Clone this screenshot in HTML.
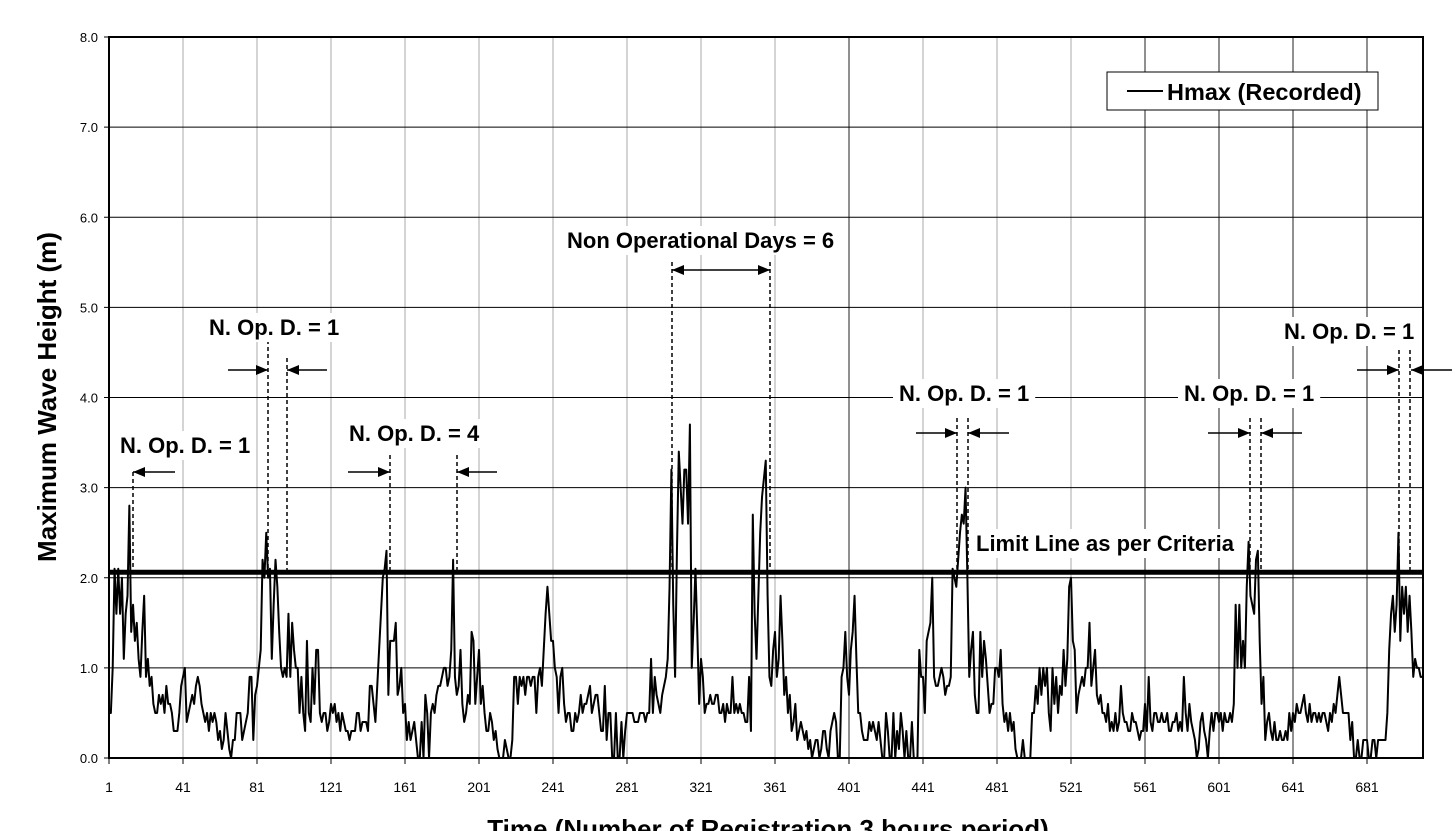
<!DOCTYPE html>
<html><head><meta charset="utf-8"><style>
body{margin:0;background:#fff;font-family:"Liberation Sans",Arial,sans-serif}
svg{display:block}
</style></head><body>
<svg id="chart" width="1455" height="831" xmlns="http://www.w3.org/2000/svg"></svg>
<script>
const xTicks=[1,41,81,121,161,201,241,281,321,361,401,441,481,521,561,601,641,681];
const yTicks=[0,1,2,3,4,5,6,7,8];
const limitValue=[2.05];
const hmax=[
0.5,0.5,1.0,2.1,1.6,2.1,1.6,2.0,1.1,1.6,1.8,2.8,1.4,1.7,1.3,1.5,1.1,0.9,1.4,1.8,0.9,1.1,0.8,0.9,0.6,0.5,0.5,0.7,0.6,0.7,0.5,0.8,0.6,0.6,0.5,0.3,0.3,0.3,0.5,0.8,
0.9,1.0,0.4,0.5,0.6,0.7,0.6,0.8,0.9,0.8,0.6,0.5,0.4,0.5,0.3,0.5,0.4,0.5,0.4,0.2,0.3,0.1,0.2,0.5,0.3,0.1,0.0,0.2,0.2,0.5,0.5,0.5,0.2,0.3,0.4,0.5,0.9,0.9,0.2,0.7,
0.8,1.0,1.2,2.2,2.0,2.5,2.0,2.1,1.1,1.7,2.2,1.9,1.4,1.0,0.9,1.0,0.9,1.6,0.9,1.5,1.2,1.0,1.0,0.5,0.9,0.5,0.3,1.3,0.5,0.4,1.0,0.6,1.2,1.2,0.5,0.4,0.5,0.5,0.3,0.4,
0.6,0.5,0.6,0.4,0.5,0.3,0.5,0.4,0.3,0.3,0.2,0.3,0.3,0.3,0.5,0.5,0.3,0.4,0.4,0.4,0.3,0.8,0.8,0.6,0.4,0.8,1.2,1.6,2.0,2.1,2.3,0.7,1.3,1.3,1.3,1.5,0.7,0.8,1.0,0.5,
0.6,0.2,0.4,0.2,0.3,0.4,0.2,0.0,0.0,0.4,0.0,0.7,0.5,0.0,0.5,0.6,0.5,0.7,0.8,0.8,0.9,1.0,1.0,0.8,0.9,1.2,2.2,0.9,0.7,0.8,1.2,0.6,0.4,0.5,0.7,0.6,1.4,1.3,0.6,0.9,
1.2,0.6,0.8,0.5,0.3,0.3,0.5,0.4,0.2,0.3,0.1,0.0,0.0,0.0,0.2,0.1,0.0,0.0,0.2,0.9,0.9,0.6,0.9,0.8,0.9,0.7,0.9,0.9,0.8,0.9,0.9,0.5,0.9,1.0,0.8,1.2,1.6,1.9,1.6,1.3,
1.3,1.0,0.9,0.5,0.9,1.0,0.6,0.4,0.5,0.5,0.3,0.3,0.5,0.4,0.5,0.7,0.5,0.6,0.6,0.7,0.8,0.5,0.6,0.7,0.7,0.5,0.3,0.3,0.8,0.2,0.5,0.5,0.0,0.0,0.5,0.0,0.0,0.4,0.0,0.3,
0.5,0.5,0.5,0.5,0.4,0.4,0.4,0.5,0.5,0.5,0.4,0.5,0.5,1.1,0.5,0.9,0.7,0.6,0.5,0.7,0.8,0.9,1.1,1.9,3.2,1.7,0.9,2.3,3.4,3.0,2.6,3.2,3.2,2.6,3.7,1.0,1.5,2.1,1.4,0.6,
1.1,0.9,0.5,0.6,0.6,0.7,0.6,0.6,0.7,0.7,0.5,0.5,0.6,0.4,0.6,0.5,0.5,0.9,0.5,0.6,0.5,0.6,0.5,0.5,0.4,0.4,0.9,0.3,2.7,1.6,1.1,1.8,2.5,2.9,3.1,3.3,1.8,0.9,0.8,1.2,
1.4,0.9,1.1,1.8,1.3,0.7,0.9,0.5,0.7,0.3,0.4,0.6,0.2,0.3,0.4,0.3,0.2,0.3,0.1,0.2,0.0,0.1,0.2,0.2,0.0,0.1,0.3,0.3,0.1,0.0,0.3,0.4,0.5,0.4,0.0,0.0,0.9,1.0,1.4,0.9,
0.7,1.2,1.4,1.8,1.1,0.5,0.5,0.3,0.2,0.2,0.2,0.4,0.3,0.4,0.3,0.2,0.4,0.2,0.0,0.0,0.5,0.3,0.0,0.0,0.5,0.0,0.3,0.1,0.5,0.3,0.0,0.3,0.0,0.0,0.4,0.0,0.0,0.0,1.2,0.9,
0.9,0.5,1.3,1.4,1.5,2.0,0.9,0.8,0.8,0.9,1.0,0.9,0.7,0.8,0.8,0.9,2.1,2.0,1.9,2.2,2.5,2.7,2.6,3.0,2.0,0.9,1.2,1.4,0.7,0.5,0.5,1.4,0.9,1.3,1.1,0.8,0.5,0.6,0.6,1.0,
1.0,0.9,1.2,0.6,0.4,0.5,0.3,0.5,0.3,0.4,0.1,0.0,0.0,0.0,0.2,0.0,0.0,0.0,0.0,0.5,0.5,0.8,0.6,1.0,0.7,1.0,0.8,1.0,0.5,0.3,1.0,0.6,0.9,0.5,0.8,0.7,1.2,0.8,1.1,1.9,
2.0,1.3,1.2,0.5,0.7,0.8,0.9,0.8,1.0,1.0,1.5,0.8,1.0,1.2,0.7,0.6,0.7,0.5,0.5,0.4,0.6,0.3,0.4,0.3,0.5,0.3,0.4,0.8,0.5,0.4,0.4,0.3,0.3,0.5,0.4,0.4,0.3,0.2,0.3,0.3,
0.6,0.3,0.9,0.4,0.3,0.5,0.5,0.4,0.4,0.5,0.4,0.4,0.5,0.3,0.3,0.4,0.4,0.5,0.3,0.4,0.3,0.9,0.5,0.3,0.6,0.4,0.3,0.2,0.0,0.1,0.4,0.5,0.3,0.2,0.0,0.3,0.5,0.3,0.5,0.5,
0.4,0.5,0.3,0.5,0.4,0.4,0.5,0.4,0.6,1.7,1.0,1.7,1.0,1.3,1.0,1.9,2.4,1.8,1.7,1.6,2.2,2.3,1.3,0.6,0.9,0.2,0.4,0.5,0.3,0.2,0.4,0.2,0.2,0.3,0.2,0.2,0.3,0.2,0.5,0.3,
0.5,0.4,0.6,0.5,0.5,0.6,0.7,0.5,0.4,0.6,0.4,0.5,0.5,0.4,0.5,0.4,0.5,0.5,0.4,0.3,0.5,0.4,0.6,0.5,0.7,0.9,0.7,0.5,0.5,0.5,0.5,0.2,0.4,0.0,0.0,0.2,0.0,0.0,0.2,0.2,
0.2,0.0,0.0,0.2,0.2,0.0,0.2,0.2,0.2,0.2,0.2,0.5,1.2,1.6,1.8,1.4,1.7,2.5,1.3,1.9,1.6,1.9,1.4,1.8,1.4,0.9,1.1,1.0,1.0,0.9,0.9
];
const L=109,R=1423,T=37,B=758;
const xS=v=>L+(v-1)*1.85;
const yS=v=>B-(v/8)*(B-T);
const svg=document.getElementById('chart');
const NS='http://www.w3.org/2000/svg';
function mk(tag,at,parent){const e=document.createElementNS(NS,tag);for(const k in at)e.setAttribute(k,at[k]);(parent||svg).appendChild(e);return e;}
const darkV=[401,561,601,641,681];
xTicks.forEach(t=>{if(t===1)return;
 const g=mk('line',{x1:xS(t),x2:xS(t),y1:T,y2:B,stroke:darkV.includes(t)?'#222':'#aaa','stroke-width':1});
 
 
});
yTicks.forEach(t=>{
 const g=mk('line',{x1:L,x2:R,y1:yS(t),y2:yS(t),stroke:'#000','stroke-width':1});
 
 
 mk('line',{x1:L-5,x2:L,y1:yS(t),y2:yS(t),stroke:'#000'});
 const tx=mk('text',{x:L-11,y:yS(t)+5,'text-anchor':'end','font-size':13,fill:'#000'});
 tx.textContent=t.toFixed(1);
 
 
});
xTicks.forEach(t=>{
 mk('line',{x1:xS(t),x2:xS(t),y1:B,y2:B+6,stroke:'#000'});
 const tx=mk('text',{x:xS(t),y:B+34,'text-anchor':'middle','font-size':14,fill:'#000'});
 tx.textContent=t;
 
 
});
const fr=mk('rect',{x:L,y:T,width:R-L,height:B-T,fill:'none',stroke:'#000','stroke-width':2});


const ll=mk('line',{x1:L,x2:R,y1:yS(limitValue[0])-1,y2:yS(limitValue[0])-1,stroke:'#000','stroke-width':5});


const pts=hmax.map((v,i)=>xS(i+1).toFixed(2)+','+yS(v).toFixed(2)).join(' ');
const pl=mk('polyline',{points:pts,fill:'none',stroke:'#000','stroke-width':2,'stroke-linejoin':'round'});


function label(txt,x,y,name,bg,fs){
 const t=mk('text',{x:x,y:y,'font-size':fs||22,'font-weight':'bold',fill:'#000'});
 t.textContent=txt;
 
 
 if(bg){const bb=t.getBBox();const r=mk('rect',{x:bb.x-6,y:bb.y-2,width:bb.width+12,height:bb.height+4,fill:'#fff'});svg.insertBefore(r,t);}
 return t;}
function dash(x,y1,y2){const d=mk('line',{x1:x,x2:x,y1:y1,y2:y2,stroke:'#000','stroke-width':1.5,'stroke-dasharray':'4,3'});
 
 }
function head(x,y,s){mk('polygon',{points:`${x},${y} ${x+s*12},${y-5} ${x+s*12},${y+5}`,fill:'#000'});}
function arrow(x1,x2,y){const a=mk('line',{x1:x1,x2:x2,y1:y,y2:y,stroke:'#000','stroke-width':1.5});
 
 
 head(x2,y,x2>x1?-1:1);}
const lim=yS(limitValue[0]);
dash(133,472,lim);arrow(175,133,472);label('N. Op. D. = 1',120,453,'annotation-label-1',true);
dash(268,340,lim);dash(287,358,lim);arrow(228,268,370);arrow(327,287,370);label('N. Op. D. = 1',209,335,'annotation-label-2',true);
dash(390,455,lim);dash(457,455,lim);arrow(348,390,472);arrow(497,457,472);label('N. Op. D. = 4',349,441,'annotation-label-3',true);
dash(672,262,lim);dash(770,262,lim);
const da=mk('line',{x1:672,x2:770,y1:270,y2:270,stroke:'#000','stroke-width':1.5});


head(672,270,1);head(770,270,-1);
label('Non Operational Days = 6',567,248,'annotation-label-4',true);
dash(957,418,lim);dash(968,418,lim);arrow(916,957,433);arrow(1009,968,433);label('N. Op. D. = 1',899,401,'annotation-label-5',true);
dash(1250,418,lim);dash(1261,418,lim);arrow(1208,1250,433);arrow(1302,1261,433);label('N. Op. D. = 1',1184,401,'annotation-label-6',true);
dash(1399,350,lim);dash(1410,350,lim);arrow(1357,1399,370);arrow(1452,1411,370);label('N. Op. D. = 1',1284,339,'annotation-label-7',true);
label('Limit Line as per Criteria',976,551,'limit-line-label',true);
const lg=mk('g',{});


mk('rect',{x:1107,y:72,width:271,height:38,fill:'#fff',stroke:'#000','stroke-width':1},lg);
mk('line',{x1:1127,x2:1163,y1:91,y2:91,stroke:'#000','stroke-width':2},lg);
const lt=mk('text',{x:1167,y:100,'font-size':23.5,'font-weight':'bold'},lg);
lt.textContent='Hmax (Recorded)';


const yt=mk('text',{x:0,y:0,'font-size':26,'font-weight':'bold','text-anchor':'middle',transform:'translate(56,397) rotate(-90)'});
yt.textContent='Maximum Wave Height (m)';


const xt=mk('text',{x:768,y:838,'font-size':26,'font-weight':'bold','text-anchor':'middle'});
xt.textContent='Time (Number of Registration 3 hours period)';


</script>
</body></html>
